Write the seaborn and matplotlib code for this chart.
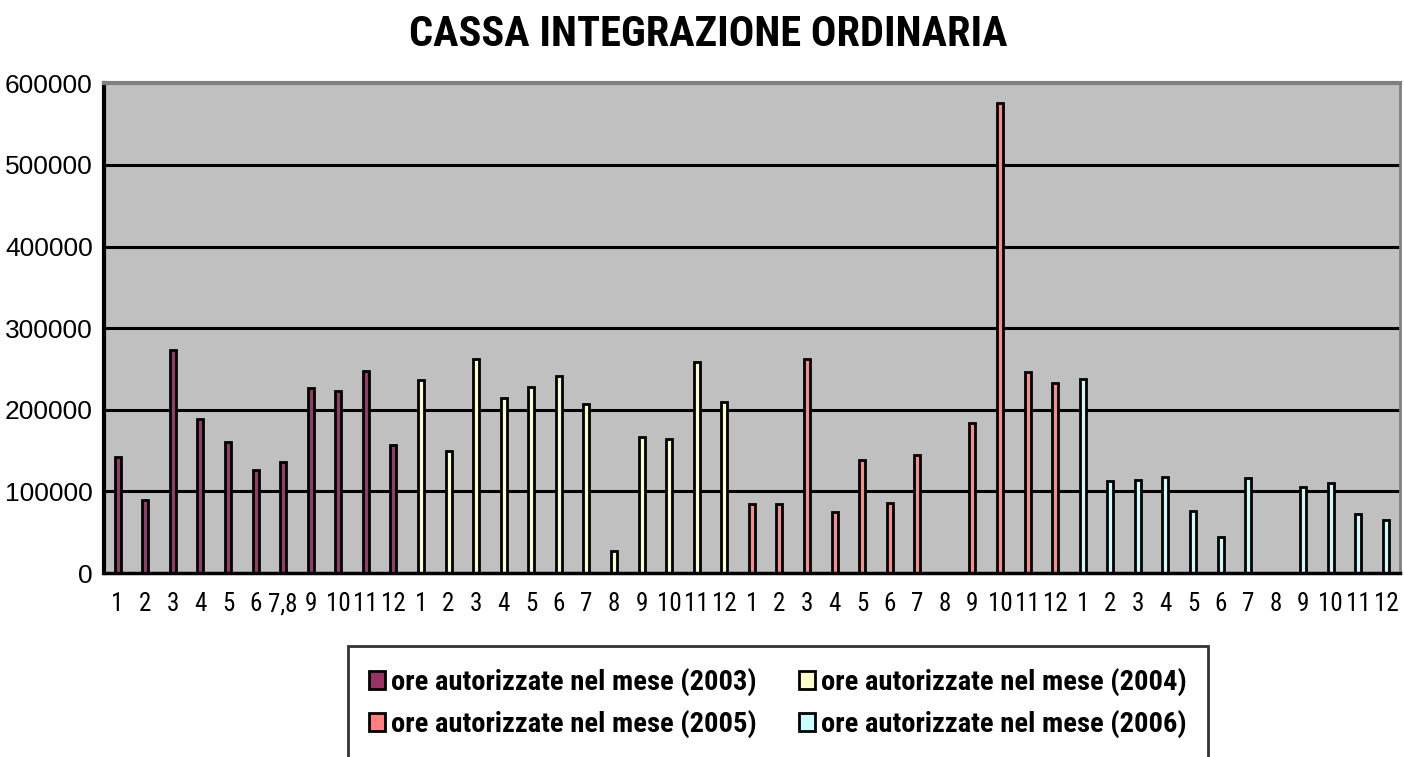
import pandas as pd
import seaborn as sns
import matplotlib.pyplot as plt
from matplotlib.patches import Patch

# month labels per year (2003 has July and August merged)
labels_2003 = ['1', '2', '3', '4', '5', '6', '7,8', '9', '10', '11', '12']
labels_month = ['1', '2', '3', '4', '5', '6', '7', '8', '9', '10', '11', '12']

# ore autorizzate nel mese
values_2003 = [142000, 89000, 273000, 189000, 160000, 126000, 136000, 227000, 223000, 248000, 157000]
values_2004 = [236000, 149000, 262000, 214000, 228000, 241000, 207000, 27000, 167000, 164000, 258000, 209000]
values_2005 = [85000, 85000, 262000, 75000, 139000, 86000, 145000, 0, 184000, 576000, 246000, 233000]
values_2006 = [238000, 113000, 114000, 118000, 76000, 44000, 117000, 0, 105000, 110000, 72000, 65000]

years = ['2003', '2004', '2005', '2006']
colors = ['#993366', '#FFFFCC', '#FF8080', '#CCFFFF']

rows = []
for year, labs, vals in zip(years,
                            [labels_2003, labels_month, labels_month, labels_month],
                            [values_2003, values_2004, values_2005, values_2006]):
    for lab, v in zip(labs, vals):
        rows.append({'year': year, 'label': lab, 'value': v})
df = pd.DataFrame(rows)
df['pos'] = range(len(df))

sns.set_style('white')
plt.rcParams['font.family'] = ['Liberation Sans', 'DejaVu Sans']
plt.rcParams['text.color'] = 'black'
plt.rcParams['xtick.color'] = 'black'
plt.rcParams['ytick.color'] = 'black'

fig = plt.figure(figsize=(14.04, 7.57), dpi=100)
ax = fig.add_axes([0.074, 0.243, 0.923, 0.647])
ax.set_facecolor('#C0C0C0')

sns.barplot(data=df, x='pos', y='value', hue='year', palette=colors, dodge=False,
            width=0.22, edgecolor='black', linewidth=2.0, legend=False, ax=ax)

ax.set_ylim(0, 600000)
ax.set_xlim(-0.5, len(df) - 0.5)
ax.set_yticks(range(0, 600001, 100000))
ax.set_yticklabels([str(t) for t in range(0, 600001, 100000)], fontsize=19)
for t in range(100000, 600000, 100000):
    ax.axhline(t, color='black', lw=2.2, zorder=0.5)

ax.set_xticks(df['pos'])
ax.set_xticklabels(df['label'], fontsize=18, family=['Roboto Condensed', 'Liberation Sans'])
ax.set_xticks([p - 0.5 for p in range(len(df) + 1)], minor=True)
ax.tick_params(axis='x', which='major', length=0, pad=14)
ax.tick_params(axis='x', which='minor', length=7, width=2, color='black', direction='out')
ax.tick_params(axis='y', length=7, width=2, color='black', direction='out', pad=1)
ax.set_xlabel('')
ax.set_ylabel('')

ax.spines['left'].set_color('black')
ax.spines['left'].set_linewidth(3)
ax.spines['bottom'].set_color('black')
ax.spines['bottom'].set_linewidth(2.5)
ax.spines['top'].set_color('#808080')
ax.spines['top'].set_linewidth(3)
ax.spines['right'].set_color('#808080')
ax.spines['right'].set_linewidth(2)

fig.text(708 / 1404, 1 - 34 / 757, 'CASSA INTEGRAZIONE ORDINARIA', ha='center', va='center',
         fontsize=30.5, fontweight='bold', family=['Roboto Condensed', 'Liberation Sans'])

# legend filled row by row: 2003, 2004 / 2005, 2006
order = [0, 2, 1, 3]
handles = [Patch(facecolor=colors[i], edgecolor='black', lw=2.0) for i in order]
leg_labels = ['ore autorizzate nel mese (%s)' % years[i] for i in order]
leg = fig.legend(handles, leg_labels, ncol=2, loc='upper center', bbox_to_anchor=(0.554, 0.165),
                 frameon=True, fancybox=False, edgecolor='black',
                 prop={'weight': 'bold', 'size': 20.5, 'family': ['Roboto Condensed', 'Liberation Sans']},
                 handlelength=0.55, handleheight=0.6, handletextpad=0.2, columnspacing=1.5,
                 labelspacing=0.5, borderpad=0.75)
leg.get_frame().set_linewidth(2)

fig.savefig('out.png', dpi=100)
